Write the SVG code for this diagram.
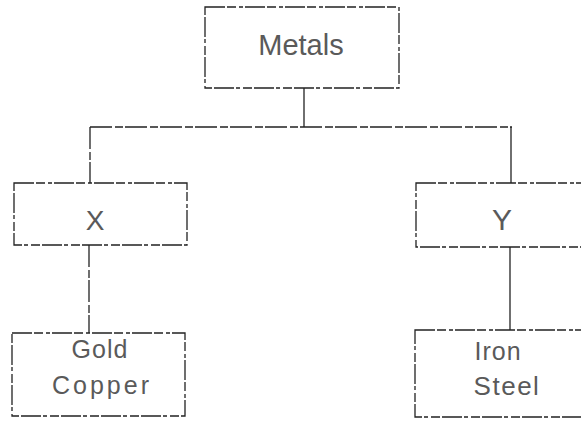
<svg xmlns="http://www.w3.org/2000/svg" width="581" height="421" viewBox="0 0 581 421">
<style>
.box{fill:none;stroke:#222;stroke-width:1.3;stroke-dasharray:20 2 9 3 4 2}
.ln{fill:none;stroke:#222;stroke-width:1.3;stroke-dasharray:22 3 8 2}
.solid{fill:none;stroke:#222;stroke-width:1.3}
text{font-family:"Liberation Sans",Arial,sans-serif;fill:#5a5a5a;text-anchor:middle}
</style>
<rect width="581" height="421" fill="#fff"/>
<g id="connectors">
<path class="solid" d="M304 88 V127"/>
<path class="ln" d="M90 127 H512"/>
<path class="ln" d="M90 127 V183"/>
<path class="solid" d="M511 127 V183"/>
<path class="ln" d="M89 245 V333"/>
<path class="solid" d="M510 247 V330"/>
</g>
<g id="metals">
<rect class="box" x="205" y="7" width="194" height="81"/>
<text x="301" y="55" font-size="29">Metals</text>
</g>
<g id="x">
<rect class="box" x="14" y="183" width="173" height="62"/>
<text x="95" y="230" font-size="28">X</text>
</g>
<g id="y">
<rect class="box" x="416" y="183" width="180" height="64"/>
<text x="502" y="230" font-size="30">Y</text>
</g>
<g id="goldcopper">
<rect class="box" x="12" y="333" width="173" height="83"/>
<text x="100" y="358" font-size="25" letter-spacing="1">Gold</text>
<text x="102" y="394" font-size="25" letter-spacing="3">Copper</text>
</g>
<g id="ironsteel">
<rect class="box" x="415" y="330" width="180" height="87"/>
<text x="498" y="360" font-size="25" letter-spacing="1">Iron</text>
<text x="507" y="395" font-size="26" letter-spacing="1.5">Steel</text>
</g>
</svg>
